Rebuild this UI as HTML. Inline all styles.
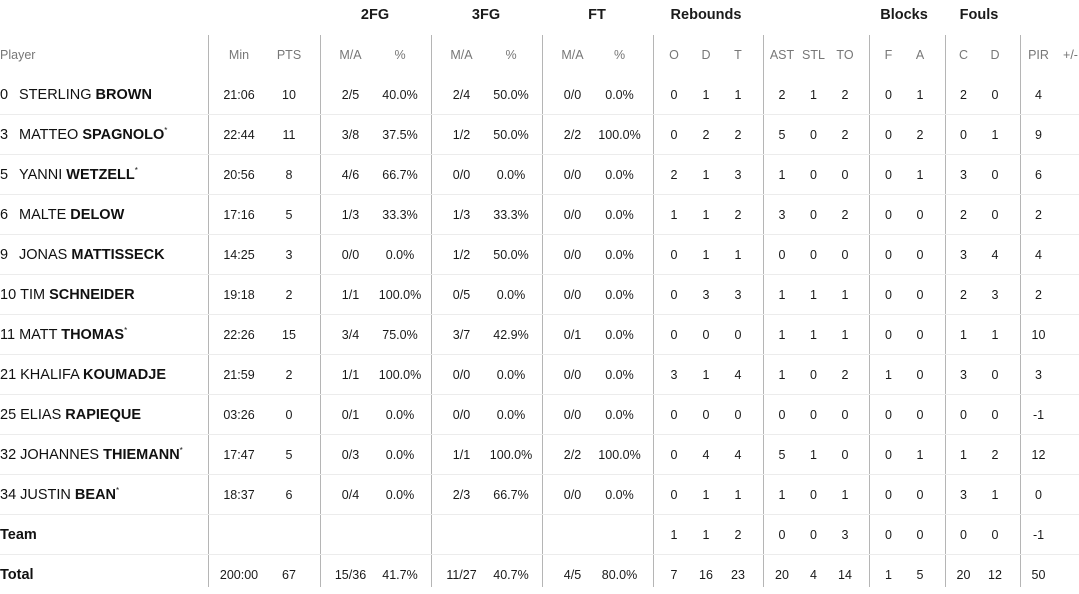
<!DOCTYPE html>
<html><head><meta charset="utf-8"><style>
body{margin:0;width:1079px;height:587px;overflow:hidden;background:#fff;font-family:"Liberation Sans",sans-serif;color:#1a1a1a;position:relative}
table{position:absolute;top:35px;left:0;border-collapse:collapse;table-layout:fixed;width:1079px}
td{height:39px;padding:0;text-align:center;font-size:12.5px;white-space:nowrap;overflow:visible}
tr.d td{border-bottom:1px solid #ececec}
tr.h td{height:40px;color:#777;font-size:12.5px}
td.p{text-align:left;font-size:14.5px;color:#111}
td.p b{font-weight:bold}
.n{display:inline-block;min-width:15px;margin-right:4px}
sup{font-size:8px;vertical-align:6px}
.g{position:absolute;top:7px;font-weight:bold;font-size:14.5px;transform:translateX(-50%)}
.v{position:absolute;top:35px;height:552px;width:1px;background:#b5b5b5}
tr.t td.p{font-weight:bold}
td:nth-child(2),td:nth-child(4),td:nth-child(6),td:nth-child(8),td:nth-child(13),td:nth-child(16),td:nth-child(18),td:nth-child(20){padding-left:6px}
td:nth-child(3),td:nth-child(5),td:nth-child(7),td:nth-child(9),td:nth-child(12),td:nth-child(15),td:nth-child(17),td:nth-child(19){padding-right:6px}
td:nth-child(10){padding-left:10px}
td:nth-child(21){padding-left:8px}
</style></head><body>
<div class="g" style="left:375px">2FG</div>
<div class="g" style="left:486px">3FG</div>
<div class="g" style="left:597px">FT</div>
<div class="g" style="left:706px">Rebounds</div>
<div class="g" style="left:904px">Blocks</div>
<div class="g" style="left:979px">Fouls</div>
<div class="v" style="left:208px"></div><div class="v" style="left:320px"></div><div class="v" style="left:431px"></div><div class="v" style="left:542px"></div><div class="v" style="left:653px"></div><div class="v" style="left:763px"></div><div class="v" style="left:869px"></div><div class="v" style="left:945px"></div><div class="v" style="left:1020px"></div>
<table>
<colgroup><col style="width:208px"><col style="width:56px"><col style="width:56px"><col style="width:55px"><col style="width:56px"><col style="width:55px"><col style="width:56px"><col style="width:55px"><col style="width:51px"><col style="width:42px"><col style="width:32px"><col style="width:38px"><col style="width:38px"><col style="width:31px"><col style="width:38px"><col style="width:37px"><col style="width:38px"><col style="width:37px"><col style="width:38px"><col style="width:37px"><col style="width:25px"></colgroup>
<tr class="h"><td class="p" style="font-size:12.5px;color:#777">Player</td><td>Min</td><td>PTS</td><td>M/A</td><td>%</td><td>M/A</td><td>%</td><td>M/A</td><td>%</td><td>O</td><td>D</td><td>T</td><td>AST</td><td>STL</td><td>TO</td><td>F</td><td>A</td><td>C</td><td>D</td><td>PIR</td><td>+/-</td></tr>
<tr class="d"><td class="p"><span class="n">0</span>STERLING <b>BROWN</b></td><td>21:06</td><td>10</td><td>2/5</td><td>40.0%</td><td>2/4</td><td>50.0%</td><td>0/0</td><td>0.0%</td><td>0</td><td>1</td><td>1</td><td>2</td><td>1</td><td>2</td><td>0</td><td>1</td><td>2</td><td>0</td><td>4</td><td></td></tr>
<tr class="d"><td class="p"><span class="n">3</span>MATTEO <b>SPAGNOLO</b><sup>*</sup></td><td>22:44</td><td>11</td><td>3/8</td><td>37.5%</td><td>1/2</td><td>50.0%</td><td>2/2</td><td>100.0%</td><td>0</td><td>2</td><td>2</td><td>5</td><td>0</td><td>2</td><td>0</td><td>2</td><td>0</td><td>1</td><td>9</td><td></td></tr>
<tr class="d"><td class="p"><span class="n">5</span>YANNI <b>WETZELL</b><sup>*</sup></td><td>20:56</td><td>8</td><td>4/6</td><td>66.7%</td><td>0/0</td><td>0.0%</td><td>0/0</td><td>0.0%</td><td>2</td><td>1</td><td>3</td><td>1</td><td>0</td><td>0</td><td>0</td><td>1</td><td>3</td><td>0</td><td>6</td><td></td></tr>
<tr class="d"><td class="p"><span class="n">6</span>MALTE <b>DELOW</b></td><td>17:16</td><td>5</td><td>1/3</td><td>33.3%</td><td>1/3</td><td>33.3%</td><td>0/0</td><td>0.0%</td><td>1</td><td>1</td><td>2</td><td>3</td><td>0</td><td>2</td><td>0</td><td>0</td><td>2</td><td>0</td><td>2</td><td></td></tr>
<tr class="d"><td class="p"><span class="n">9</span>JONAS <b>MATTISSECK</b></td><td>14:25</td><td>3</td><td>0/0</td><td>0.0%</td><td>1/2</td><td>50.0%</td><td>0/0</td><td>0.0%</td><td>0</td><td>1</td><td>1</td><td>0</td><td>0</td><td>0</td><td>0</td><td>0</td><td>3</td><td>4</td><td>4</td><td></td></tr>
<tr class="d"><td class="p"><span class="n">10</span>TIM <b>SCHNEIDER</b></td><td>19:18</td><td>2</td><td>1/1</td><td>100.0%</td><td>0/5</td><td>0.0%</td><td>0/0</td><td>0.0%</td><td>0</td><td>3</td><td>3</td><td>1</td><td>1</td><td>1</td><td>0</td><td>0</td><td>2</td><td>3</td><td>2</td><td></td></tr>
<tr class="d"><td class="p"><span class="n">11</span>MATT <b>THOMAS</b><sup>*</sup></td><td>22:26</td><td>15</td><td>3/4</td><td>75.0%</td><td>3/7</td><td>42.9%</td><td>0/1</td><td>0.0%</td><td>0</td><td>0</td><td>0</td><td>1</td><td>1</td><td>1</td><td>0</td><td>0</td><td>1</td><td>1</td><td>10</td><td></td></tr>
<tr class="d"><td class="p"><span class="n">21</span>KHALIFA <b>KOUMADJE</b></td><td>21:59</td><td>2</td><td>1/1</td><td>100.0%</td><td>0/0</td><td>0.0%</td><td>0/0</td><td>0.0%</td><td>3</td><td>1</td><td>4</td><td>1</td><td>0</td><td>2</td><td>1</td><td>0</td><td>3</td><td>0</td><td>3</td><td></td></tr>
<tr class="d"><td class="p"><span class="n">25</span>ELIAS <b>RAPIEQUE</b></td><td>03:26</td><td>0</td><td>0/1</td><td>0.0%</td><td>0/0</td><td>0.0%</td><td>0/0</td><td>0.0%</td><td>0</td><td>0</td><td>0</td><td>0</td><td>0</td><td>0</td><td>0</td><td>0</td><td>0</td><td>0</td><td>-1</td><td></td></tr>
<tr class="d"><td class="p"><span class="n">32</span>JOHANNES <b>THIEMANN</b><sup>*</sup></td><td>17:47</td><td>5</td><td>0/3</td><td>0.0%</td><td>1/1</td><td>100.0%</td><td>2/2</td><td>100.0%</td><td>0</td><td>4</td><td>4</td><td>5</td><td>1</td><td>0</td><td>0</td><td>1</td><td>1</td><td>2</td><td>12</td><td></td></tr>
<tr class="d"><td class="p"><span class="n">34</span>JUSTIN <b>BEAN</b><sup>*</sup></td><td>18:37</td><td>6</td><td>0/4</td><td>0.0%</td><td>2/3</td><td>66.7%</td><td>0/0</td><td>0.0%</td><td>0</td><td>1</td><td>1</td><td>1</td><td>0</td><td>1</td><td>0</td><td>0</td><td>3</td><td>1</td><td>0</td><td></td></tr>
<tr class="d t"><td class="p">Team</td><td></td><td></td><td></td><td></td><td></td><td></td><td></td><td></td><td>1</td><td>1</td><td>2</td><td>0</td><td>0</td><td>3</td><td>0</td><td>0</td><td>0</td><td>0</td><td>-1</td><td></td></tr>
<tr class="t"><td class="p">Total</td><td>200:00</td><td>67</td><td>15/36</td><td>41.7%</td><td>11/27</td><td>40.7%</td><td>4/5</td><td>80.0%</td><td>7</td><td>16</td><td>23</td><td>20</td><td>4</td><td>14</td><td>1</td><td>5</td><td>20</td><td>12</td><td>50</td><td></td></tr>
</table>
</body></html>
